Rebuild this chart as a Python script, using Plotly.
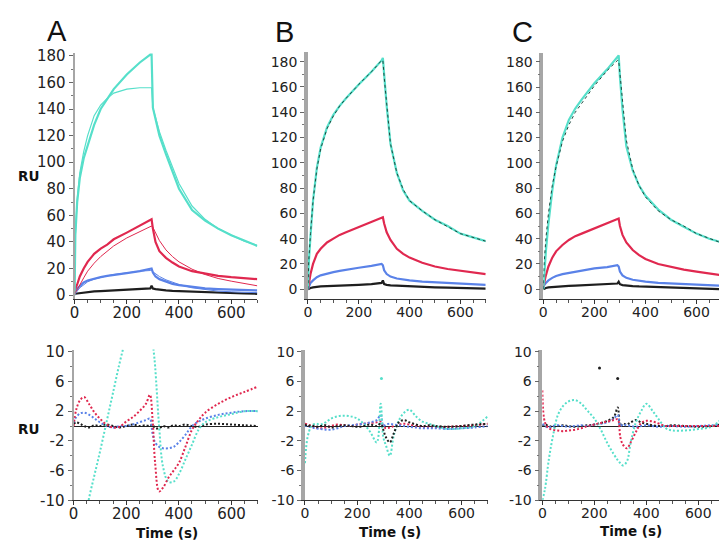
import plotly.graph_objects as go

W, H = 727, 547

# ---- sensorgram data (RU) ----
t_sens = [0, 3, 10, 20, 35, 50, 75, 100, 125, 150, 200, 250, 290,
          295, 300, 310, 325, 350, 375, 400, 450, 500, 550, 600, 650, 700]

a_cyan = [0, 45, 70, 88, 103, 113, 128, 140, 148, 155, 166, 175, 181,
          181, 141, 132, 120, 106, 93, 80, 64, 56, 50, 45, 41, 37]
a_cyan_fit = [0, 45, 72, 92, 108, 120, 135, 143, 148, 152, 155, 156, 156,
              156, 141, 134, 123, 109, 96, 84, 67, 57, 50, 45, 40.5, 37.5]
a_red = [2, 5, 8, 14, 20, 25, 31, 35, 38, 42, 47, 52, 56,
         57, 50, 40, 33, 28, 24.5, 21.5, 18, 16, 14.5, 13.5, 12.5, 12]
a_red_fit = [0, 2, 4, 8, 13, 18, 24, 29, 33, 37, 43, 48, 52,
             52, 51, 47, 41, 34, 29, 25, 19.5, 15.5, 12.5, 10.5, 8.5, 7]
a_blue = [1, 3, 5, 7, 9.5, 11, 12.5, 13.5, 14.5, 15, 16.5, 18, 19.5,
          20, 17, 14, 12, 10, 8.5, 7.5, 6, 5, 4.5, 4, 3.8, 3.5]
a_blue_fit = [0, 1, 3, 5.5, 8, 10, 12, 13.5, 14.5, 15.5, 17, 18, 18.5,
              18.5, 17.5, 16, 14, 11.5, 9.5, 8, 5.5, 4, 3, 2.5, 2, 1.8]
a_black = [0.5, 1, 1.2, 1.5, 2, 2.2, 2.8, 3, 3.3, 3.5, 4, 4.5, 5,
           7, 5, 4.5, 4, 3.5, 3.2, 3, 2.5, 2, 1.8, 1.5, 1.2, 1]

b_cyan = [0, 20, 42, 70, 96, 112, 128, 138, 145, 151, 162, 172, 181,
          183, 170, 145, 115, 92, 78, 70, 62, 55, 50, 44, 41, 38]
b_cyan_fit = [0, 22, 44, 70, 95, 111, 127, 137, 145, 151, 162, 172, 181,
              181, 168, 144, 115, 92, 79, 70, 62, 55, 49.5, 44, 41, 38]
b_red = [0, 4, 12, 20, 28, 32, 37, 40, 43, 45, 49, 53, 56.5,
         57, 52, 45, 39, 32, 28, 25, 21, 18, 16, 14.5, 13, 12]
b_blue = [0, 2, 5, 7, 9.5, 11, 12.5, 13.5, 14.5, 15.5, 17, 18.5, 20,
          19, 15, 12, 10, 8.5, 7.5, 7, 6, 5.5, 5, 4.5, 4, 3.5]
b_black = [0, 0.5, 1, 1.5, 2, 2.2, 2.5, 2.8, 3, 3.2, 3.5, 4, 5,
           7, 4, 3.5, 3, 2.8, 2.5, 2.2, 2, 1.5, 1.2, 1, 0.8, 0.5]

c_cyan = [0, 12, 30, 52, 78, 98, 120, 134, 143, 150, 163, 174, 184,
          185, 168, 142, 113, 94, 82, 74, 63, 55, 49.5, 44, 40, 37]
c_cyan_fit = [0, 20, 40, 60, 82, 97, 117, 130, 140, 147, 161, 173, 181,
              181, 170, 148, 118, 95, 82, 73, 62, 55, 50, 44, 40, 36.5]
c_red = [2, 5, 11, 18, 25, 30, 35, 39, 42, 44, 48, 52, 55,
         56, 50, 43, 37, 31, 27, 24, 20, 17.5, 15.5, 14, 12.5, 11]
c_blue = [1, 3, 5, 7, 9, 10.5, 12, 13, 14, 15, 16.5, 17.5, 19,
          18, 14, 11, 9, 7.5, 6.5, 6, 5, 4.5, 4, 3.5, 3, 2.8]
c_black = [0, 0.5, 1, 1.5, 1.8, 2, 2.3, 2.6, 2.8, 3, 3.3, 3.8, 4.5,
           6, 4, 3.3, 2.8, 2.5, 2.2, 2, 1.6, 1.2, 0.9, 0.6, 0.3, 0]

# ---- residuals (RU) ----
t_res = [0, 10, 25, 40, 60, 80, 100, 125, 150, 175, 200, 225, 250, 275, 290,
         300, 310, 325, 340, 360, 380, 400, 425, 450, 475, 500, 550, 600, 650, 700]

ra_cyan = [-20, -18, -16, -13, -9.5, -6.5, -3.5, 0.5, 4.5, 8.5, 12, 15, 18, 21, 22,
           12, 8, 0, -5.5, -7.5, -7.5, -6.5, -4.5, -2.5, -0.5, 0.5, 1.2, 1.6, 2, 2]
ra_red = [0, 2.2, 3.5, 3.9, 2.9, 1.8, 1, 0.2, -0.2, -0.1, 0.6, 1.2, 2, 3, 4.2,
          1, -5, -8.8, -8.3, -7, -6, -5, -2.8, -0.5, 0.8, 1.8, 3, 3.9, 4.6, 5.3]
ra_blue = [0.5, 1.2, 1.7, 1.8, 1.5, 1, 0.5, 0, -0.2, 0, 0, 0.2, 0.5, 0.8, 1,
           -1, -2.2, -2.8, -3, -3, -2.8, -2.2, -1.2, 0, 0.6, 1, 1.5, 1.8, 2, 2]
ra_black = [0.3, 0.5, 0.3, 0, -0.2, 0.1, 0, 0.2, 0, -0.2, 0, 0.2, 0, 0.1, 0,
            0.2, -0.3, -0.3, 0, -0.2, 0.1, 0, 0.2, 0, -0.1, 0.2, 0.3, 0.2, 0.1, 0]

rb_cyan = [-5, -1.5, 0, 0.3, 0.2, 0.5, 1, 1.3, 1.4, 1.3, 1, 0.3, -0.8, -2.2, 3,
           -1.5, -2.6, -4, -1.3, 0.8, 1.8, 2.2, 1.3, 0.6, 0.3, 0, -0.4, -0.3, 0, 1.3]
rb_red = [0.3, 0.2, 0, -0.2, -0.3, -0.2, 0, 0.2, 0.1, 0, 0.2, 0.3, 0.4, 0.5, 0.6,
          0, -0.3, -0.2, 0, 0.2, 0.3, 0.2, 0, -0.1, -0.2, -0.2, -0.1, 0, 0.1, 0.3]
rb_blue = [0, 0, -0.2, -0.3, -0.4, -0.5, -0.5, -0.3, 0, 0.1, 0.2, 0.3, 0.5, 0.8, 1.5,
           0, 0.2, 0.3, 0.2, 0.1, 0, -0.1, -0.2, -0.3, -0.3, -0.3, -0.4, -0.3, -0.2, 0]
rb_black = [0.2, 0, 0.1, -0.1, 0, 0.1, -0.2, 0, 0.1, 0, -0.1, 0, 0.2, 0, 0.3,
            -0.5, -1.5, -2.2, -1, 0.5, 0.8, 0.5, 0.2, 0, 0.1, 0, -0.1, 0, 0.2, 0.3]

rc_cyan = [-10, -8.5, -4.5, -1.5, 1.5, 2.7, 3.3, 3.5, 3, 2, 1, -0.5, -2.3, -3.8, -4.6,
           -5, -5.3, -4.8, -2.2, 0.5, 2, 3, 2, 0.8, -0.3, -0.6, -0.6, -0.4, -0.1, 1.3]
rc_red = [4.8, 0.5, -0.3, -0.5, -0.6, -0.7, -0.6, -0.5, -0.3, 0, 0.2, 0.4, 0.6, 0.8, 0.9,
          -1.5, -2.5, -3, -2.2, -0.8, 0.4, 0.7, 0.6, 0.3, 0, 0, 0, 0, 0, 0]
rc_blue = [0.3, 0, -0.2, 0, 0.1, 0, -0.1, 0, 0.1, 0, 0.2, 0.3, 0.5, 1, 1.5,
           0, 0.2, 0.1, 0, -0.1, 0, 0.1, 0, -0.1, 0, 0, -0.1, 0, 0.1, 0.2]
rc_black = [0, 0.2, 0, -0.1, 0, 0.1, 0, -0.1, 0, 0.1, 0.2, 0.4, 0.7, 1.2, 2.5,
            0, 0.3, 0.2, 0.5, 0.8, 0.5, 0.3, 0.1, 0, 0, 0.1, 0, -0.1, 0, 0.3]

# stray residual points (t, RU)
rb_out_t, rb_out_y = [293], [6.4]
rc_out_t, rc_out_y = [220, 290], [7.8, 6.4]

# tick labels
time_ticks = [0, 200, 400, 600]
res_ticks = [-10, -6, -2, 2, 6, 10]
res_ticktext = ["-10", "-6", "-2", "2", "6", "10"]

CYAN = "#56dfca"
RED = "#e0284f"
BLUE = "#5a82e8"
BLACK = "#1e1e1e"
FIT_DARK = "#1f4a3f"
FONT = "DejaVu Sans, Verdana, sans-serif"
LETTER_FONT = "Liberation Sans, Arial, sans-serif"


def px(x):
    return x / W


def py(y):
    return 1 - y / H


fig = go.Figure()


def line(n, x, y, color, width, dash=None, shape="linear"):
    fig.add_trace(go.Scatter(x=x, y=y, mode="lines", xaxis="x" + n, yaxis="y" + n,
                             line=dict(color=color, width=width, dash=dash, shape=shape),
                             showlegend=False, hoverinfo="skip"))


# top panels
for n, series in [("", [(a_black, BLACK), (a_blue, BLUE), (a_red, RED), (a_cyan, CYAN)]),
                  ("2", [(b_black, BLACK), (b_blue, BLUE), (b_red, RED), (b_cyan, CYAN)]),
                  ("3", [(c_black, BLACK), (c_blue, BLUE), (c_red, RED), (c_cyan, CYAN)])]:
    for vals, col in series:
        line(n, t_sens, vals, col, 2.2)

line("", t_sens, a_blue_fit, BLUE, 1)
line("", t_sens, a_red_fit, RED, 1)
line("", t_sens, a_cyan_fit, CYAN, 1.2)
line("2", t_sens, b_cyan_fit, FIT_DARK, 1, dash="dot")
line("3", t_sens, c_cyan_fit, FIT_DARK, 1, dash="dot")

# residual panels
for n, series in [("4", [(ra_black, BLACK), (ra_blue, BLUE), (ra_cyan, CYAN), (ra_red, RED)]),
                  ("5", [(rb_red, RED), (rb_blue, BLUE), (rb_cyan, CYAN), (rb_black, BLACK)]),
                  ("6", [(rc_black, BLACK), (rc_blue, BLUE), (rc_cyan, CYAN), (rc_red, RED)])]:
    for vals, col in series:
        line(n, t_res, vals, col, 2, dash="2px,2px", shape="spline")

fig.add_trace(go.Scatter(x=rb_out_t, y=rb_out_y, mode="markers", xaxis="x5", yaxis="y5",
                         marker=dict(color=CYAN, size=3), showlegend=False))
fig.add_trace(go.Scatter(x=rc_out_t, y=rc_out_y, mode="markers", xaxis="x6", yaxis="y6",
                         marker=dict(color=BLACK, size=3), showlegend=False))


def xax(x0, x1, rng, anchor, fs):
    return dict(domain=[px(x0), px(x1)], range=rng, anchor=anchor,
                showline=True, linecolor="#333", linewidth=1,
                ticks="outside", ticklen=4, tickcolor="#333", tickvals=time_ticks,
                minor=dict(ticks="outside", ticklen=3, dtick=50, tickcolor="#555"),
                showgrid=False, zeroline=False, ticklabelstandoff=-4,
                tickfont=dict(family=FONT, size=fs, color="#222"))


def yax(y0, y1, rng, anchor, lw, fs, residual):
    ax = dict(domain=[py(y1), py(y0)], range=rng, anchor=anchor,
              showline=True, linecolor="#a6a6a6", linewidth=lw,
              ticks="outside", ticklen=4, tickcolor="#666",
              showgrid=False, zeroline=residual, zerolinecolor="#222", zerolinewidth=1,
              tickfont=dict(family=FONT, size=fs, color="#222"))
    if residual:
        ax.update(tickvals=res_ticks, ticktext=res_ticktext,
                  minor=dict(ticks="outside", ticklen=2, dtick=2, tick0=0, tickcolor="#777"))
    else:
        ax.update(dtick=20, tick0=0,
                  minor=dict(ticks="outside", ticklen=2, dtick=10, tickcolor="#777"))
    return ax


fig.update_layout(
    width=W, height=H, margin=dict(l=0, r=0, t=0, b=0),
    paper_bgcolor="white", plot_bgcolor="white",
    xaxis=xax(62, 246, [0, 700], "y", 15),
    yaxis=yax(40, 293, [-2.9, 182.2], "x", 2, 15, False),
    xaxis2=xax(297, 476, [0, 700], "y2", 14),
    yaxis2=yax(39, 293, [-7.7, 187.7], "x2", 3.5, 14, False),
    xaxis3=xax(534, 714, [0, 700], "y3", 14),
    yaxis3=yax(40, 293, [-7.7, 187], "x3", 3.5, 14, False),
    xaxis4=xax(61, 247, [0, 702], "y4", 15),
    yaxis4=yax(345, 500, [-10, 10.3], "x4", 2, 15, True),
    xaxis5=xax(294, 478, [0, 700], "y5", 14),
    yaxis5=yax(345, 500, [-10, 10.3], "x5", 3.5, 14, True),
    xaxis6=xax(533, 717, [0, 703], "y6", 14),
    yaxis6=yax(345, 500, [-10, 10.3], "x6", 3.5, 14, True),
)

ann = [
    ("A", 44, 17, 29, False, LETTER_FONT), ("B", 273, 18, 29, False, LETTER_FONT),
    ("C", 513, 18, 29, False, LETTER_FONT),
    ("RU", 16, 167, 13.5, True, FONT), ("RU", 16, 427, 13.5, True, FONT),
    ("Time (s)", 155, 534, 13.5, True, FONT), ("Time (s)", 380, 533, 13.5, True, FONT),
    ("Time (s)", 622, 532, 13.5, True, FONT),
]
for text, x, y, size, bold, fam in ann:
    fig.add_annotation(text="<b>%s</b>" % text if bold else text,
                       x=px(x), y=py(y), xref="paper", yref="paper",
                       showarrow=False, xanchor="center", yanchor="middle",
                       font=dict(family=fam, size=size, color="#111"))

fig.write_html("out.html")
